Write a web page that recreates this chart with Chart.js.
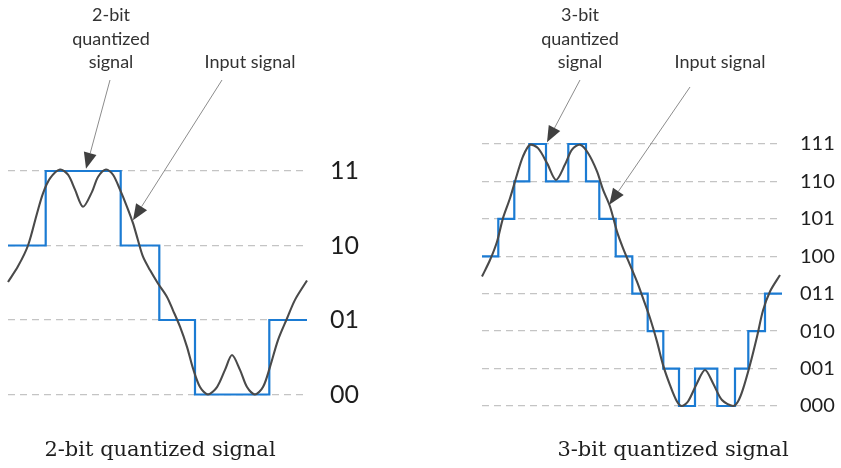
<!DOCTYPE html>
<html>
<head>
<meta charset="utf-8">
<script src="https://cdn.jsdelivr.net/npm/chart.js@4.4.1/dist/chart.umd.min.js"></script>
<style>
  html, body { margin: 0; padding: 0; background: #ffffff; }
  #wrap { position: relative; width: 841px; height: 468px; overflow: hidden; background: #fff; }
  canvas { position: absolute; top: 0; }
  #c2 { left: 0; }
  #c3 { left: 420px; }
</style>
</head>
<body>
<div id="wrap">
  <canvas id="c2" width="420" height="468"></canvas>
  <canvas id="c3" width="421" height="468"></canvas>
</div>
<script>
// ---- level (code) labels ----
const levels2 = ['00', '01', '10', '11'];
const levels3 = ['000', '001', '010', '011', '100', '101', '110', '111'];

// ---- 2-bit panel: quantized signal (step change points) ----
const q2X = [0, 37.7, 112.7, 151.3, 187, 261.3, 299];
const q2Y = [2, 3, 2, 1, 0, 1, 1];

// ---- 2-bit panel: input signal (in level units) ----
const in2X = [0, 10, 20, 29, 35, 42, 52, 60, 67, 75, 84, 90, 98, 105, 112, 119, 125, 130, 135, 142,
              150, 159, 165, 172, 179, 185, 192, 200, 209, 217, 224, 232, 239, 247, 255, 262, 270, 279, 287, 299];
const in2Y = [1.51, 1.72, 2.0, 2.43, 2.70, 2.90, 3.02, 2.95, 2.75, 2.52, 2.72, 2.92, 3.02, 2.95, 2.75, 2.52, 2.30, 2.07, 1.85, 1.67,
              1.49, 1.31, 1.13, 0.91, 0.64, 0.35, 0.10, 0.0, 0.10, 0.33, 0.53, 0.33, 0.10, 0.0, 0.10, 0.37, 0.73, 1.02, 1.27, 1.53];

// ---- 3-bit panel: quantized signal (step change points) ----
const q3X = [0, 16.3, 32.3, 47.3, 64, 86.3, 104, 117.3, 133.7, 150.3, 165.7, 181.3, 197, 213, 235.3, 253, 266.3, 283, 300];
const q3Y = [4, 5, 6, 7, 6, 7, 6, 5, 4, 3, 2, 1, 0, 1, 0, 1, 2, 3, 3];

// ---- 3-bit panel: input signal (in level units) ----
const in3X = [0, 8, 15, 21, 28, 35, 41, 48, 56, 65, 74, 83, 90, 98, 106, 115, 121, 128, 135, 141, 148,
              155, 161, 168, 175, 181, 188, 195, 200, 206, 215, 223, 231, 240, 251, 256, 261, 268, 275, 281, 288, 298];
const in3Y = [3.46, 3.90, 4.39, 5.02, 5.55, 6.18, 6.67, 6.98, 6.89, 6.49, 6.04, 6.45, 6.85, 6.98, 6.76, 6.27, 5.78, 5.33, 4.66, 4.22, 3.77,
              3.32, 2.88, 2.35, 1.72, 1.10, 0.56, 0.12, 0.0, 0.12, 0.61, 0.96, 0.61, 0.16, 0.0, 0.12, 0.45, 1.1, 1.85, 2.55, 3.06, 3.5];

// ---- texts ----
const quantText2 = ['2-bit', 'quantized', 'signal'];
const quantText3 = ['3-bit', 'quantized', 'signal'];
const inputText = 'Input signal';
const title2 = '2-bit quantized signal';
const title3 = '3-bit quantized signal';

const BLUE = '#1b7bd3';
const GREY = '#4a4a4a';
const SANS = 'Lato, "Open Sans", sans-serif';
const SERIF = '"DejaVu Serif", "Liberation Serif", serif';

function pts(xs, ys) { return xs.map((x, i) => ({ x: x, y: ys[i] })); }

function drawArrow(ctx, fx, fy, tx, ty) {
  const ang = Math.atan2(ty - fy, tx - fx);
  const len = 16, hw = 6.5;
  const bx = tx - Math.cos(ang) * len, by = ty - Math.sin(ang) * len;
  ctx.save();
  ctx.strokeStyle = '#8c8c8c';
  ctx.lineWidth = 1;
  ctx.beginPath();
  ctx.moveTo(fx, fy);
  ctx.lineTo(bx, by);
  ctx.stroke();
  ctx.fillStyle = '#404040';
  ctx.beginPath();
  ctx.moveTo(tx, ty);
  ctx.lineTo(bx + Math.sin(ang) * hw, by - Math.cos(ang) * hw);
  ctx.lineTo(bx - Math.sin(ang) * hw, by + Math.cos(ang) * hw);
  ctx.closePath();
  ctx.fill();
  ctx.restore();
}

const annotPlugin = {
  id: 'annot',
  afterDraw(chart, args, o) {
    const ctx = chart.ctx;
    const xs = chart.scales.x, ys = chart.scales.y;
    ctx.save();
    ctx.fillStyle = '#333';
    ctx.font = '18px ' + SANS;
    ctx.textAlign = 'center';
    ctx.textBaseline = 'middle';
    o.quant.forEach((t, i) => ctx.fillText(t, o.qcx, o.qy[i]));
    ctx.fillText(o.input, o.icx, o.iy);
    drawArrow(ctx, o.qTail[0], o.qTail[1], xs.getPixelForValue(o.qTip[0]), ys.getPixelForValue(o.qTip[1]));
    drawArrow(ctx, o.iTail[0], o.iTail[1], xs.getPixelForValue(o.iTip[0]), ys.getPixelForValue(o.iTip[1]));
    ctx.fillStyle = '#1e1e1e';
    ctx.font = '21px ' + SERIF;
    ctx.fillText(o.title, o.tcx, o.ty);
    ctx.restore();
  }
};

function makeChart(id, cfg) {
  return new Chart(document.getElementById(id), {
    type: 'line',
    data: {
      datasets: [
        {
          data: pts(cfg.inX, cfg.inY),
          borderColor: GREY,
          borderWidth: 2.1,
          tension: 0.3,
          pointRadius: 0,
          clip: false,
          order: 0
        },
        {
          data: pts(cfg.qX, cfg.qY),
          borderColor: BLUE,
          borderWidth: 2.2,
          stepped: 'before',
          pointRadius: 0,
          clip: false,
          order: 1
        }
      ]
    },
    options: {
      responsive: false,
      animation: false,
      events: [],
      layout: { padding: cfg.padding },
      plugins: {
        legend: { display: false },
        tooltip: { enabled: false },
        title: { display: false },
        annot: cfg.annot
      },
      scales: {
        x: { type: 'linear', min: 0, max: 300, display: false },
        y: {
          type: 'linear',
          position: 'right',
          min: 0,
          max: cfg.levels.length - 1,
          afterFit: (s) => { s.width = cfg.axisWidth; },
          afterBuildTicks: (s) => { s.ticks = cfg.levels.map((_, i) => ({ value: i })); },
          ticks: {
            padding: cfg.tickPad,
            color: '#1e1e1e',
            font: { family: SANS, size: cfg.labelSize },
            callback: (v) => cfg.levels[v]
          },
          grid: { color: '#c4c4c4', lineWidth: 1.3, drawTicks: false },
          border: { display: false, dash: [7, 5] }
        }
      }
    },
    plugins: [annotPlugin]
  });
}

function build() {
  makeChart('c2', {
    levels: levels2, qX: q2X, qY: q2Y, inX: in2X, inY: in2Y,
    padding: { left: 8, top: 171, bottom: 73.5, right: 0 },
    axisWidth: 112, tickPad: 22, labelSize: 25,
    annot: {
      quant: quantText2, qcx: 111, qy: [15, 39, 62],
      input: inputText, icx: 250, iy: 62,
      qTail: [110, 80], qTip: [78, 3.03],
      iTail: [222, 80], iTip: [125, 2.34],
      title: title2, tcx: 160, ty: 451
    }
  });
  makeChart('c3', {
    levels: levels3, qX: q3X, qY: q3Y, inX: in3X, inY: in3Y,
    padding: { left: 62, top: 144, bottom: 62, right: 0 },
    axisWidth: 59, tickPad: 18, labelSize: 20,
    annot: {
      quant: quantText3, qcx: 160, qy: [15, 39, 62],
      input: inputText, icx: 300, iy: 62,
      qTail: [160, 80], qTip: [65, 7.05],
      iTail: [270, 87], iTip: [127.3, 5.38],
      title: title3, tcx: 253, ty: 451
    }
  });
}

if (document.fonts && document.fonts.load) {
  Promise.all([
    document.fonts.load('18px Lato'),
    document.fonts.load('21px "DejaVu Serif"')
  ]).then(build, build);
} else {
  build();
}
</script>
</body>
</html>
